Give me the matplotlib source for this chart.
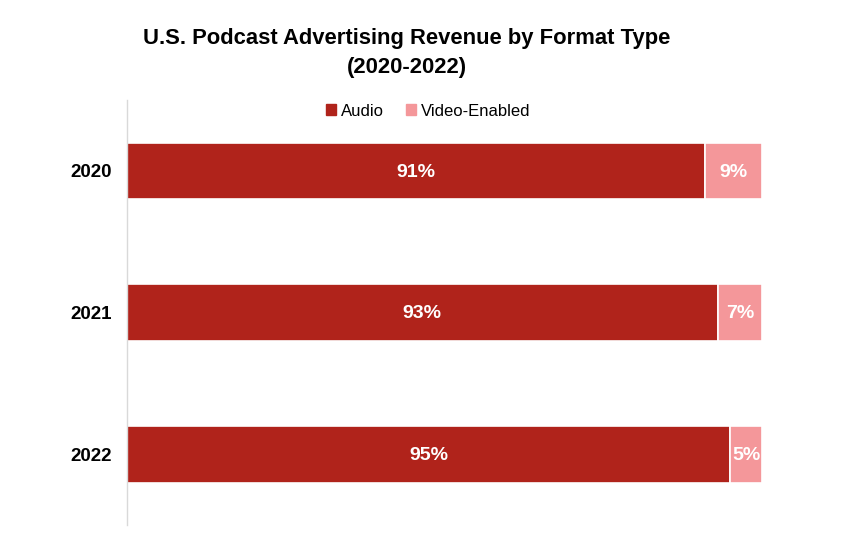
import matplotlib
matplotlib.use("Agg")
import matplotlib.pyplot as plt
from matplotlib.patches import Patch

years = ["2020", "2021", "2022"]
audio = [91, 93, 95]
video = [9, 7, 5]
series_names = ["Audio", "Video-Enabled"]

plt.rcParams['font.family'] = ['Liberation Sans', 'DejaVu Sans']

c_audio = "#B0231B"
c_video = "#F4979A"

fig = plt.figure(figsize=(8.57, 5.49), dpi=100)
ax = fig.add_axes([127/857, 1-525/549, (762-127)/857, (525-100)/549])

y = list(range(len(years)))
ax.barh(y, audio, height=0.4, color=c_audio, edgecolor="white", linewidth=1.2)
ax.barh(y, video, left=audio, height=0.4, color=c_video, edgecolor="white", linewidth=1.2)

for i in range(len(years)):
    ax.text(audio[i]/2, i + 0.01, f"{audio[i]}%", ha="center", va="center",
            color="white", fontsize=14, fontweight="bold")
    ax.text(audio[i] + video[i]/2, i + 0.01, f"{video[i]}%", ha="center", va="center",
            color="white", fontsize=14, fontweight="bold")

ax.set_xlim(0, 100)
ax.set_ylim(2.5, -0.5)
ax.set_yticks(y)
ax.set_yticklabels(years, fontsize=13.5, fontweight="bold")
ax.tick_params(axis="y", length=0, pad=11)
ax.set_xticks([])
for s in ["top", "right", "bottom"]:
    ax.spines[s].set_visible(False)
ax.spines["left"].set_color("#D9D9D9")
ax.spines["left"].set_linewidth(1)

fig.text(407/857, 1-53/549, "U.S. Podcast Advertising Revenue by Format Type\n(2020-2022)",
         ha="center", va="center", fontsize=15.8, fontweight="bold", linespacing=1.5)

handles = [Patch(color=c_audio), Patch(color=c_video)]
fig.legend(handles, series_names, loc="center", bbox_to_anchor=(428/857, 1-111/549),
           ncol=2, frameon=False, fontsize=12, handlelength=0.6, handleheight=0.6,
           handletextpad=0.3, columnspacing=1.3)

fig.savefig("out.png", dpi=100)
